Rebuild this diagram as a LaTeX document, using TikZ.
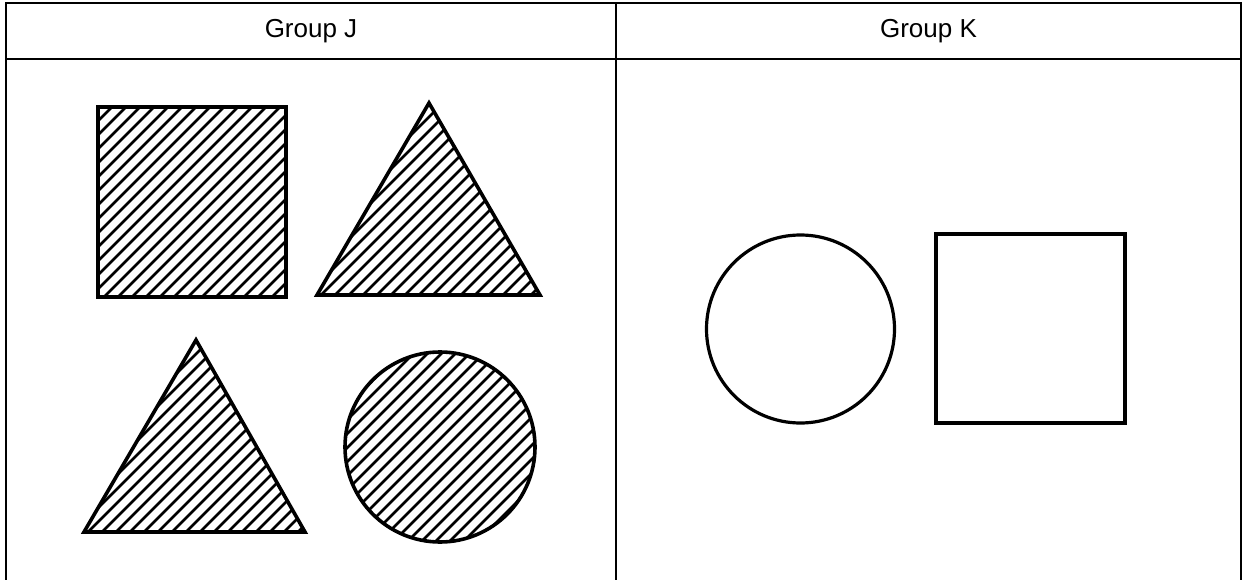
\documentclass[tikz,border=0pt]{standalone}
\usepackage{fontspec}
\setmainfont{Liberation Sans}
\newcommand\hatcharea[5]{%
  \begin{scope}
    \clip #1;
    \foreach \i in {0,...,34} {
      \pgfmathsetmacro\cc{#2+#3+\i*14}
      \draw[hatchline] ({\cc-#5},#5) -- ({\cc-#3},#3);
    }
  \end{scope}}
\begin{document}
\begin{tikzpicture}[x=1pt,y=-1pt,
  border/.style={line width=1.3pt},
  outline/.style={line width=3.6pt, line join=miter},
  hatchline/.style={line width=2.8pt},
  head/.style={font=\fontsize{26}{30}\selectfont, inner sep=0pt}]
\useasboundingbox (0,0) rectangle (1245,580);
% table
\draw[border] (6,580) -- (6,3) -- (1241,3) -- (1241,580);
\draw[border] (6,59) -- (1241,59);
\draw[border] (616,3) -- (616,580);
\node[head] (hj) at (311,31) {Group J};
\node[head] (hk) at (928.5,31) {Group K};
% Group J: square
\hatcharea{(98,107) rectangle (286,297)}{98}{107}{286}{297}
\draw[outline] (98,107) rectangle (286,297);
% Group J: triangle 1
\hatcharea{(429,103) -- (540,295) -- (317,295) -- cycle}{317}{103}{540}{295}
\draw[outline] (429,103) -- (540,295) -- (317,295) -- cycle;
% Group J: triangle 2
\hatcharea{(196,340) -- (305,532) -- (84,532) -- cycle}{84}{340}{305}{532}
\draw[outline] (196,340) -- (305,532) -- (84,532) -- cycle;
% Group J: circle
\hatcharea{(440,447) circle[radius=95]}{345}{352}{535}{542}
\draw[outline] (440,447) circle[radius=95];
% Group K
\draw[outline, line width=3.2pt] (800.5,329) circle[radius=94];
\draw[outline, line width=3.4pt] (936,234) rectangle (1125,423);
\end{tikzpicture}
\end{document}
